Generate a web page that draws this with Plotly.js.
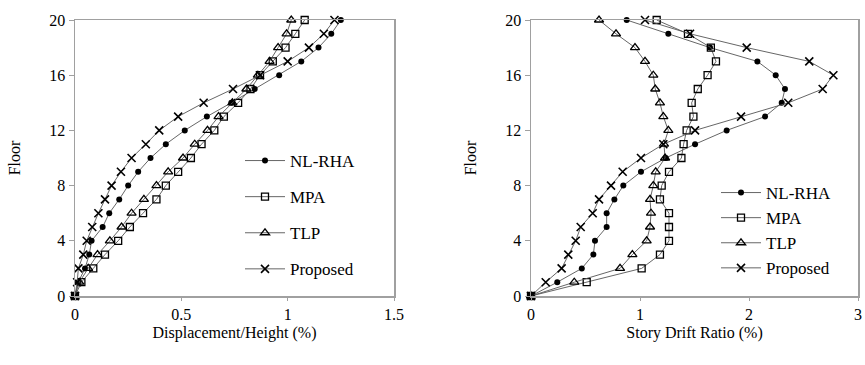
<!DOCTYPE html>
<html>
<head>
<meta charset="utf-8">
<script src="https://cdn.plot.ly/plotly-3.0.1.min.js"></script>
<style>html,body{margin:0;padding:0;background:#fff;}#chart{width:865px;height:365px;}</style>
</head>
<body>
<div id="chart"></div>
<script>
// Floors
var floors = [0,1,2,3,4,5,6,7,8,9,10,11,12,13,14,15,16,17,18,19,20];

// Left: Displacement/Height (%)
var dispNLRHA   = [0,0.015,0.047,0.067,0.078,0.13,0.161,0.208,0.25,0.297,0.355,0.427,0.516,0.62,0.735,0.845,0.96,1.064,1.145,1.205,1.25];
var dispMPA     = [0,0.03,0.086,0.141,0.203,0.258,0.32,0.383,0.427,0.485,0.545,0.595,0.655,0.70,0.767,0.825,0.87,0.93,0.99,1.036,1.08];
var dispTLP     = [0,0.02,0.062,0.106,0.164,0.219,0.266,0.324,0.383,0.438,0.508,0.563,0.623,0.675,0.74,0.806,0.86,0.915,0.955,0.995,1.017];
var dispProp    = [0,0.01,0.016,0.039,0.055,0.081,0.11,0.141,0.172,0.216,0.266,0.333,0.396,0.485,0.605,0.743,0.87,1.0,1.10,1.17,1.22];

// Right: Story Drift Ratio (%)
var driftNLRHA  = [0,0.241,0.466,0.572,0.587,0.694,0.694,0.765,0.847,1.009,1.236,1.505,1.795,2.147,2.30,2.33,2.245,2.077,1.642,1.26,0.878];
var driftMPA    = [0,0.511,1.015,1.183,1.266,1.266,1.266,1.183,1.199,1.266,1.38,1.40,1.428,1.49,1.474,1.53,1.62,1.697,1.65,1.44,1.153];
var driftTLP    = [0,0.397,0.817,0.93,1.061,1.092,1.101,1.092,1.122,1.144,1.23,1.22,1.26,1.214,1.183,1.14,1.122,1.046,0.954,0.78,0.624];
var driftProp   = [0,0.135,0.281,0.342,0.41,0.456,0.566,0.624,0.734,0.841,1.009,1.214,1.505,1.927,2.36,2.676,2.774,2.553,1.979,1.459,1.046];

var seriesNames = ['NL-RHA','MPA','TLP','Proposed'];
var yTicks = [0,4,8,12,16,20];
var xTicksLeft = [0,0.5,1,1.5];
var xTickTextLeft = ['0','0.5','1','1.5'];
var xTicksRight = [0,1,2,3];

var markerStyles = [
  {symbol:'circle', size:6, color:'#000', line:{width:0}},
  {symbol:'square-open', size:7, color:'#000', line:{width:1.3, color:'#000'}},
  {symbol:'triangle-up-open', size:8, color:'#000', line:{width:1.3, color:'#000'}},
  {symbol:'x-thin-open', size:8, color:'#000', line:{width:1.6, color:'#000'}}
];

var leftData = [dispNLRHA, dispMPA, dispTLP, dispProp];
var rightData = [driftNLRHA, driftMPA, driftTLP, driftProp];

var traces = [];
leftData.forEach(function(arr, i){
  traces.push({
    x: arr, y: floors, type:'scatter', mode:'lines+markers', name: seriesNames[i],
    xaxis:'x', yaxis:'y', legend:'legend', legendgroup:'l'+i, cliponaxis:false,
    line:{color:'#555', width:0.9}, marker: markerStyles[i]
  });
});
rightData.forEach(function(arr, i){
  traces.push({
    x: arr, y: floors, type:'scatter', mode:'lines+markers', name: seriesNames[i],
    xaxis:'x2', yaxis:'y2', legend:'legend2', legendgroup:'r'+i, cliponaxis:false,
    line:{color:'#555', width:0.9}, marker: markerStyles[i]
  });
});

var fontFam = 'Times New Roman, Liberation Serif, DejaVu Serif, serif';
var axisCommon = {
  showgrid:false, zeroline:false, showline:true, mirror:true,
  linecolor:'#a0a0a0', linewidth:1.5, ticks:'outside', tickcolor:'#a0a0a0',
  tickfont:{family:fontFam, size:16, color:'#000'}, automargin:false
};

var layout = {
  width:865, height:365,
  margin:{l:0, r:0, t:0, b:0},
  paper_bgcolor:'#fff', plot_bgcolor:'#fff',
  font:{family:fontFam, color:'#000'},
  showlegend:true,
  xaxis: Object.assign({}, axisCommon, {
    domain:[75/865, 394/865], range:[0,1.5], tickvals:xTicksLeft, ticktext:xTickTextLeft, ticklen:3,
    title:{text:'Displacement/Height (%)', font:{family:fontFam, size:16}, standoff:5}, anchor:'y'
  }),
  yaxis: Object.assign({}, axisCommon, {
    domain:[(365-296)/365, (365-20)/365], range:[0,20], tickvals:yTicks, ticklen:5,
    title:{text:'Floor', font:{family:fontFam, size:16}, standoff:24}, anchor:'x'
  }),
  xaxis2: Object.assign({}, axisCommon, {
    domain:[531/865, 858/865], range:[0,3], tickvals:xTicksRight, ticklen:3,
    title:{text:'Story Drift Ratio (%)', font:{family:fontFam, size:16}, standoff:5}, anchor:'y2'
  }),
  yaxis2: Object.assign({}, axisCommon, {
    domain:[(365-296)/365, (365-20)/365], range:[0,20], tickvals:yTicks, ticklen:5,
    title:{text:'Floor', font:{family:fontFam, size:16}, standoff:24}, anchor:'x2'
  }),
  legend:{
    x:240/865, y:(365-143)/365, xanchor:'left', yanchor:'top',
    bgcolor:'rgba(0,0,0,0)', font:{family:fontFam, size:17, color:'#000'},
    traceorder:'grouped', tracegroupgap:11, itemwidth:40
  },
  legend2:{
    x:716/865, y:(365-175)/365, xanchor:'left', yanchor:'top',
    bgcolor:'rgba(0,0,0,0)', font:{family:fontFam, size:17, color:'#000'},
    traceorder:'grouped', tracegroupgap:0, itemwidth:40
  }
};

Plotly.newPlot('chart', traces, layout, {displayModeBar:false, staticPlot:true});
</script>
</body>
</html>
